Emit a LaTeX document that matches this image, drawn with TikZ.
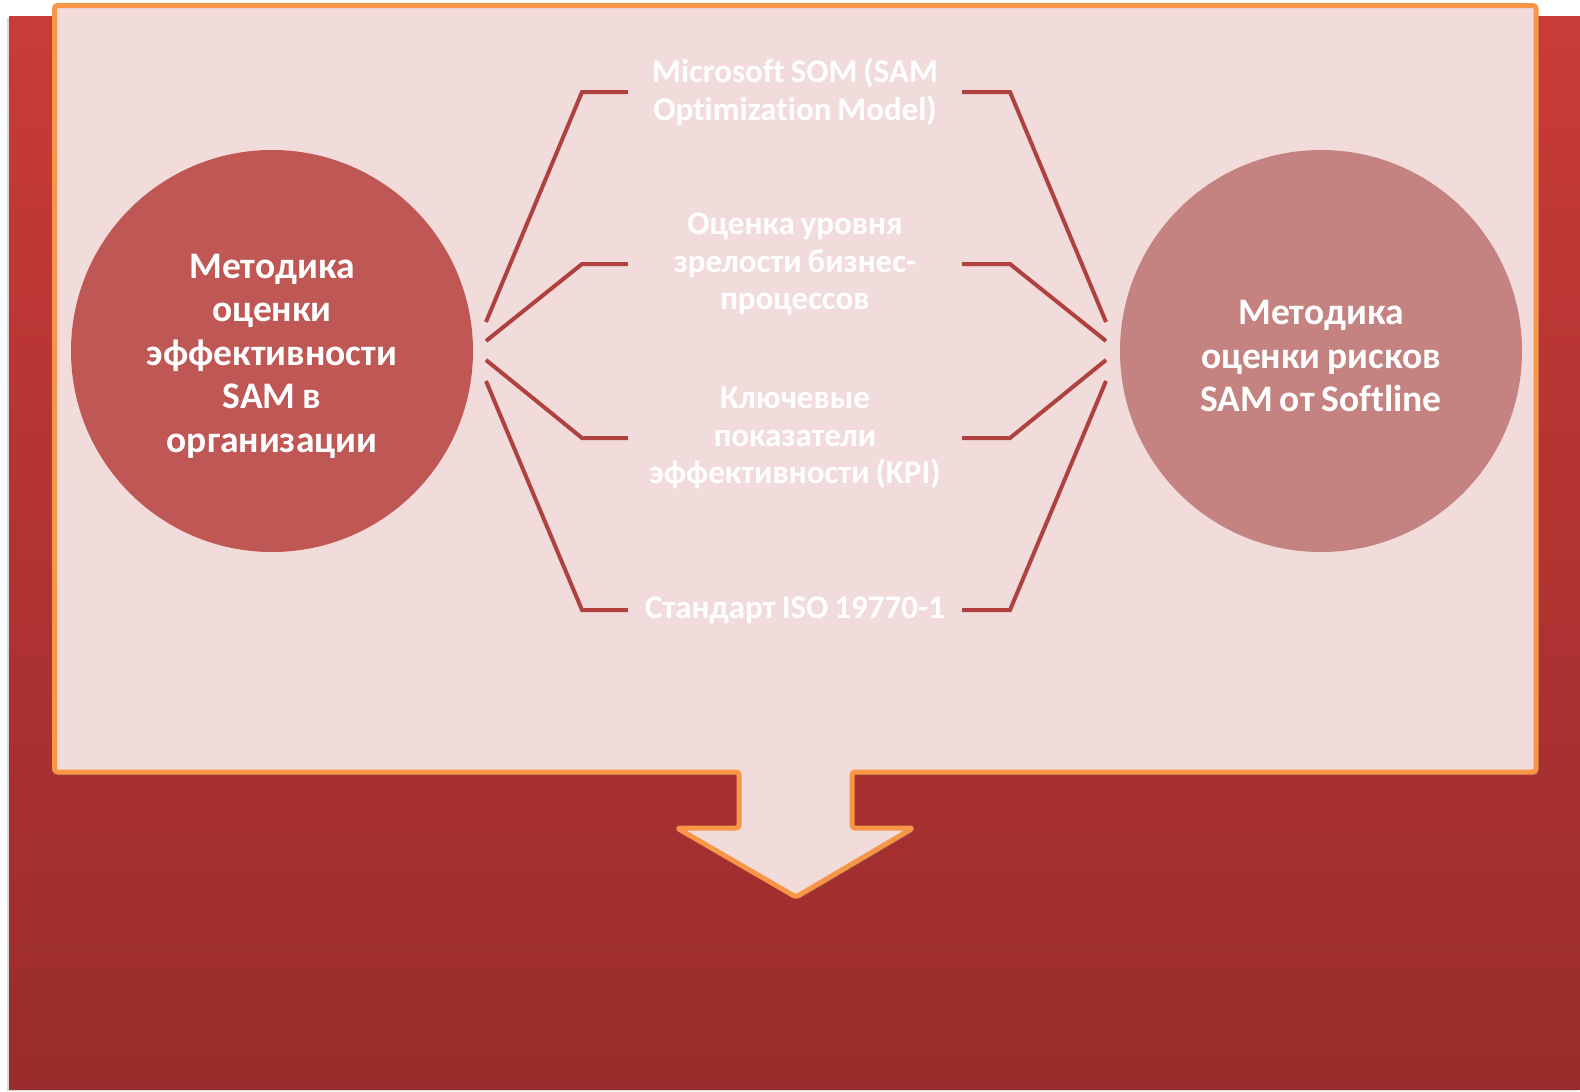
\documentclass[tikz,border=0pt]{standalone}
\usepackage{fontspec}
\setmainfont{Carlito}[Ligatures=NoCommon, WordSpace=0.8]
\usetikzlibrary{
  shadows,
  calc
}
\definecolor{samBgTop}{HTML}{C93B38}
\definecolor{samBgBot}{HTML}{992C2C}
\definecolor{samPanel}{HTML}{F2DBDB}
\definecolor{samFrame}{HTML}{F79646}
\definecolor{samLeft}{HTML}{BF5754}
\definecolor{samRight}{HTML}{C48380}
\definecolor{samLink}{HTML}{AF423F}
\tikzset{
  backdrop/.style={
    top color=samBgTop, bottom color=samBgBot, draw=none,
    drop shadow={shadow xshift=-2bp, shadow yshift=-2bp, opacity=0.3}
  },
  panel/.style={
    fill=samPanel, draw=samFrame, line width=5bp, rounded corners=3bp, line join=round,
    drop shadow={shadow xshift=2bp, shadow yshift=-3bp, opacity=0.35}
  },
  method/.style={
    circle, minimum size=402bp, inner sep=0pt, draw=none
  },
  methodtext/.style={
    align=center, inner sep=0pt, yshift=-5bp, text=white,
    font=\fontsize{37.5bp}{43.5bp}\selectfont\bfseries
  },
  leftmethod/.style={method, fill=samLeft},
  rightmethod/.style={method, fill=samRight},
  item/.style={
    text width=334bp, inner sep=0pt, align=flush center, text=white,
    font=\fontsize{33bp}{37.5bp}\selectfont\bfseries
  },
  link/.style={draw=samLink, line width=4bp}
}
\begin{document}
\begin{tikzpicture}[x=1bp, y=-1bp]
  \useasboundingbox (0,0) rectangle (1580,1091);
  % background and panel with arrow
  \path[backdrop] (9,16) rectangle (1580,1089);
  \path[panel] (54.5,5.5) -- (1536,5.5) -- (1536,772) -- (852,772) -- (852,828)
    -- (913,828) -- (796,897) -- (677,828) -- (739,828) -- (739,772)
    -- (54.5,772) -- cycle;

  % the two methods
  \node[leftmethod, label={[methodtext]center:Методика\\оценки\\эффективности\\SAM в\\организации}] (lc) at (272,351) {};
  \node[rightmethod, label={[methodtext]center:Методика\\оценки рисков\\SAM от Softline}] (rc) at (1321,351) {};

  % items between them
  \foreach \i/\y/\dy/\txt in {
    1/92/-29/{Microsoft SOM (SAM\\Optimization Model)},
    2/264/-10/{Оценка уровня\\зрелости бизнес-\\процессов},
    3/438/9/{Ключевые\\показатели\\эффективности (KPI)},
    4/610/30/{Стандарт ISO 19770-1}}{
    \node[item] (it\i) at (795,\y) {\txt};
    \coordinate (ls\i) at ($(lc.center)+(214,\dy)$);
    \coordinate (rs\i) at ($(rc.center)+(-215,\dy)$);
    \draw[link] (ls\i) -- (it\i.west -| 582,0) -- (it\i.west);
    \draw[link] (it\i.east) -- (it\i.east -| 1010,0) -- (rs\i);
  }
\end{tikzpicture}
\end{document}
